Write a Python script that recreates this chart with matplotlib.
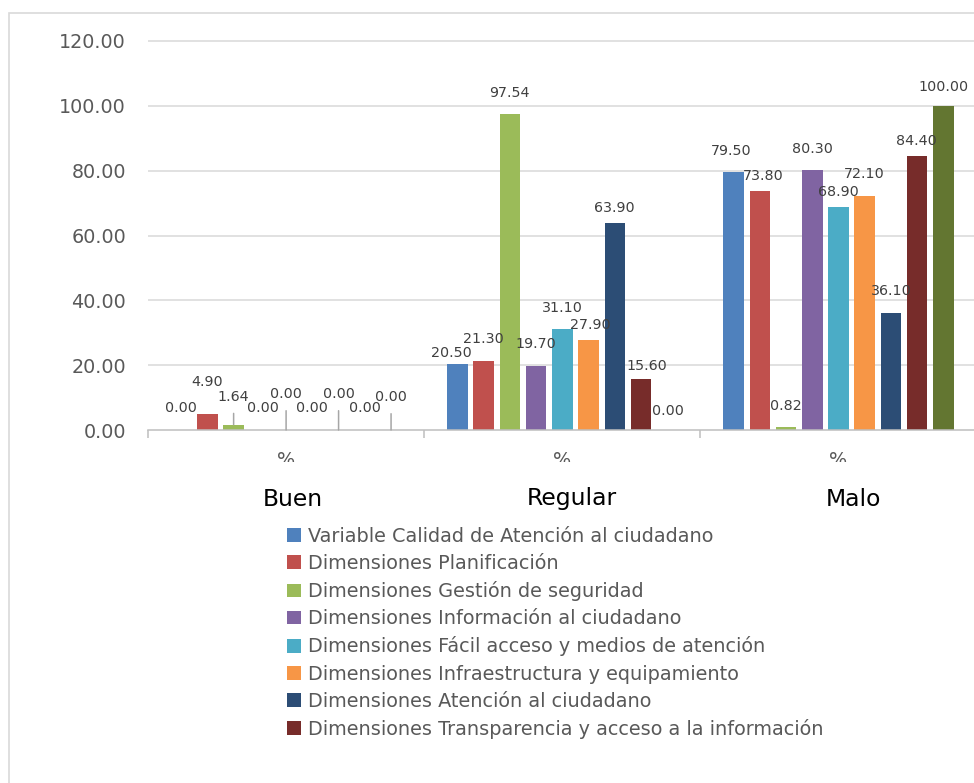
import matplotlib
matplotlib.use("Agg")
import matplotlib.pyplot as plt
from matplotlib.patches import Rectangle
from matplotlib.ticker import FuncFormatter
from matplotlib.transforms import Bbox, TransformedBbox, blended_transform_factory
import numpy as np

# ---- data -------------------------------------------------------------
categories = ["Buen", "Regular", "Malo"]
category_ticks = ["%", "%", "%"]
y_ticks = [0, 20, 40, 60, 80, 100, 120]

series_names = [
    "Variable Calidad de Atención al ciudadano",
    "Dimensiones Planificación",
    "Dimensiones Gestión de seguridad",
    "Dimensiones Información al ciudadano",
    "Dimensiones Fácil acceso y medios de atención",
    "Dimensiones Infraestructura y equipamiento",
    "Dimensiones Atención al ciudadano",
    "Dimensiones Transparencia y acceso a la información",
]

calidad_atencion = [0.00, 20.50, 79.50]
planificacion = [4.90, 21.30, 73.80]
gestion_seguridad = [1.64, 97.54, 0.82]
informacion = [0.00, 19.70, 80.30]
facil_acceso = [0.00, 31.10, 68.90]
infraestructura = [0.00, 27.90, 72.10]
atencion = [0.00, 63.90, 36.10]
transparencia = [0.00, 15.60, 84.40]
serie_extra = [0.00, 0.00, 100.00]   # ninth series, not listed in the legend

series_values = [calidad_atencion, planificacion, gestion_seguridad, informacion,
                 facil_acceso, infraestructura, atencion, transparencia, serie_extra]

colors = ["#4F81BD", "#C0504D", "#9BBB59", "#8064A2", "#4BACC6",
          "#F79646", "#2C4D75", "#772C2A", "#637631"]

# data-label nudges (dx, dy) in pixels from the top of each bar
label_offsets = [
    [(0, 23), (-6, 12), (-2, 22)],
    [(0, 33), (0, 23), (3, 16)],
    [(0, 29), (0, 22), (0, 22)],
    [(3, 23), (0, 23), (0, 22)],
    [(0, 37), (0, 22.5), (0, 16)],
    [(0, 23), (2, 16), (0, 23)],
    [(0, 37), (0, 16), (0, 23)],
    [(0, 23), (6, 14), (-1, 16)],
    [(0, 34), (1, 20), (0, 20)],
]
leader_labels = {(2, 0), (4, 0), (6, 0), (8, 0)}

# ---- figure -----------------------------------------------------------
W, H = 974, 783
fig = plt.figure(figsize=(W / 100, H / 100), dpi=100)
fig.patch.set_facecolor("white")

# chart frame
fig.patches.append(Rectangle((9 / W, -0.05), 1.2, (H - 13) / H + 0.05,
                             transform=fig.transFigure, fill=False,
                             edgecolor="#d9d9d9", lw=1.2))

ax = fig.add_axes([148 / W, (H - 430) / H, 828.6 / W, 389 / H])
ax.set_facecolor("none")

n = len(series_values)
step = 0.095
width = 0.0742
x = np.arange(len(categories))

handles = []
for s, (vals, color) in enumerate(zip(series_values, colors)):
    pos = x + (s - (n - 1) / 2) * step
    bars = ax.bar(pos, vals, width=width, color=color, zorder=2)
    if s < len(series_names):
        handles.append((bars, series_names[s]))
    for c in range(len(categories)):
        dx, dy = label_offsets[s][c]
        arrow = None
        if (s, c) in leader_labels:
            arrow = dict(arrowstyle="-", color="#a6a6a6", lw=1.1,
                         relpos=(0.5, 0), shrinkA=5, shrinkB=0)
        ax.annotate(f"{vals[c]:.2f}", xy=(pos[c], vals[c]),
                    xytext=(dx, dy - 1), textcoords="offset pixels",
                    ha="center", va="center", fontsize=10.3, color="#404040",
                    arrowprops=arrow, annotation_clip=False, zorder=4)

# axes styling
ax.set_xlim(-0.5, len(categories) - 0.5)
ax.set_ylim(0, 120)
ax.hlines(y_ticks[1:], -0.5, len(categories) - 0.5, colors="#d9d9d9",
          lw=1.1, zorder=0, clip_on=False)
for side in ("top", "right", "left"):
    ax.spines[side].set_visible(False)
ax.spines["bottom"].set_color("#bfbfbf")
ax.spines["bottom"].set_linewidth(1.1)

ax.set_yticks(y_ticks)
ax.yaxis.set_major_formatter(FuncFormatter(lambda v, p: f"{v:.2f}"))
ax.tick_params(axis="y", length=0, pad=15.8, labelsize=13.8, labelcolor="#595959")

ax.set_xticks(np.arange(len(categories) + 1) - 0.5)
ax.set_xticklabels([])
ax.tick_params(axis="x", length=5.8, width=1.1, color="#bfbfbf", direction="out")

# category tick text, cut off at the bottom of the axis band
blend = blended_transform_factory(ax.transData, fig.transFigure)
clip = TransformedBbox(Bbox.from_extents(0, (H - 462) / H, 1, 1), fig.transFigure)
for i, lab in enumerate(category_ticks):
    t = fig.text(i, (H - 466) / H, lab, transform=blend, ha="center",
                 va="baseline", fontsize=13.8, color="#595959")
    t.set_clip_box(clip)
    t.set_clip_on(True)

# group names under the axis
name_x = [292.7, 572, 853.5]
for px, name in zip(name_x, categories):
    fig.text(px / W, (H - 505.5) / H, name, ha="center", va="baseline",
             fontsize=16.9, color="#000000")

# legend
fig.legend([h for h, _ in handles], [l for _, l in handles],
           loc="upper left", bbox_to_anchor=(287 / W, (H - 527) / H),
           frameon=False, fontsize=13.9, labelcolor="#595959",
           handlelength=0.72, handleheight=0.72, handletextpad=0.35,
           labelspacing=0.42, borderpad=0, borderaxespad=0)

fig.savefig("out.png", dpi=100)
